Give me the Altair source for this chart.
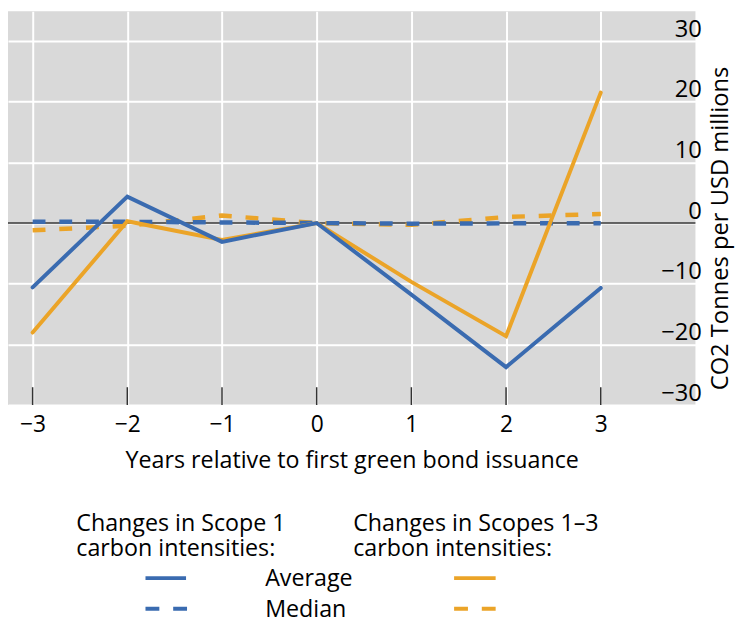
import altair as alt
import pandas as pd

# ---- data ----
years = [-3, -2, -1, 0, 1, 2, 3]
scope1_average = [-10.6, 4.35, -3.1, 0.0, -11.8, -23.75, -10.7]
scope1_median = [0.2, 0.2, 0.1, 0.0, -0.1, -0.05, -0.05]
scope13_average = [-18.05, 0.3, -2.8, 0.0, -9.7, -18.65, 21.5]
scope13_median = [-1.2, -0.45, 1.25, 0.0, -0.3, 1.0, 1.5]
y_ticks = [-30, -20, -10, 0, 10, 20, 30]

BLUE = "#3A6BB0"
ORANGE = "#EBA428"
FONT = "Open Sans"

series = {
    "scope1_average": scope1_average,
    "scope1_median": scope1_median,
    "scope13_average": scope13_average,
    "scope13_median": scope13_median,
}
rows = []
for name, vals in series.items():
    for x, v in zip(years, vals):
        rows.append({"series": name, "year": x, "value": v})
df = pd.DataFrame(rows)
ticks_df = pd.DataFrame({"year": years})
one = pd.DataFrame({"k": [0]})

xscale = alt.Scale(domain=[-3.26, 4.0], nice=False, zero=False)
yscale = alt.Scale(domain=[-30, 34.9], nice=False, zero=False)

xaxis = alt.Axis(
    values=years, grid=True, gridColor="white", gridWidth=2, ticks=False, tickSize=0,
    domain=False, labelFontSize=23, labelFont=FONT, labelColor="black", labelPadding=9,
    title="Years relative to first green bond issuance", titleFont=FONT, titleFontSize=23.5,
    titleFontWeight="normal", titleColor="black", titleY=56, titleBaseline="middle",
    format="d",
)
yaxis = alt.Axis(
    orient="right", values=y_ticks, grid=True, gridColor="white", gridWidth=2,
    ticks=False, tickSize=0, domain=False, labelAlign="right", labelPadding=6,
    labelBaseline="alphabetic", labelOffset=-5, labelFontSize=24, labelFont=FONT,
    labelColor="black", title="CO2 Tonnes per USD millions", titleFont=FONT,
    titleFontSize=24, titleFontWeight="normal", titleColor="black", titleAngle=270,
    titleX=25, titleY=219, titleAlign="center", titleBaseline="middle",
)

base = alt.Chart(df)

# invisible layer carrying the axes
axes_layer = base.mark_point(opacity=0).encode(
    x=alt.X("year:Q", scale=xscale, axis=xaxis),
    y=alt.Y("value:Q", scale=yscale, axis=yaxis),
)

zero_line = alt.Chart(one).mark_rule(color="#333333", strokeWidth=1.5).encode(y=alt.datum(0))

tick_marks = alt.Chart(ticks_df).mark_rule(color="#333333", strokeWidth=1.5).encode(
    x=alt.X("year:Q"), y=alt.value(380), y2=alt.value(398)
)


def line(name, color, dashed):
    kw = dict(color=color, strokeWidth=4.5 if dashed else 4)
    if dashed:
        kw["strokeDash"] = [13, 14]
    else:
        kw["strokeCap"] = "round"
    return base.transform_filter(alt.datum.series == name).mark_line(**kw).encode(
        x="year:Q", y="value:Q", order="year:Q"
    )


lines = [
    line("scope13_median", ORANGE, True),
    line("scope1_median", BLUE, True),
    line("scope13_average", ORANGE, False),
    line("scope1_average", BLUE, False),
]

# ---- custom legend ----
def txt(text, x, y):
    return alt.Chart(one).mark_text(
        text=text, font=FONT, fontSize=23.5, color="black", align="left",
        baseline="alphabetic",
    ).encode(x=alt.value(x), y=alt.value(y))


def sym(color, x1, x2, y, dashed):
    kw = dict(color=color, strokeWidth=4)
    if dashed:
        kw["strokeDash"] = [14, 14]
    return alt.Chart(one).mark_rule(**kw).encode(
        x=alt.value(x1), x2=alt.value(x2), y=alt.value(y)
    )


legend = [
    txt("Changes in Scope 1", 69, 525),
    txt("carbon intensities:", 69, 551),
    txt("Changes in Scopes 1\u20133", 349, 525),
    txt("carbon intensities:", 349, 551),
    txt("Average", 260, 581),
    txt("Median", 260, 612),
    sym(BLUE, 139, 180, 573, False),
    sym(BLUE, 139, 181, 604, True),
    sym(ORANGE, 451, 493, 573, False),
    sym(ORANGE, 451, 493, 604, True),
]

chart = alt.layer(axes_layer, zero_line, tick_marks, *lines, *legend).properties(
    width=695,
    height=398,
    autosize=alt.AutoSizeParams(type="none"),
    padding={"left": 0, "top": 0, "right": 41, "bottom": 218},
    background="white",
).configure_view(fill="#D9D9D9", strokeWidth=0)

chart.save("out.html", embed_options={"renderer": "svg", "actions": False})
